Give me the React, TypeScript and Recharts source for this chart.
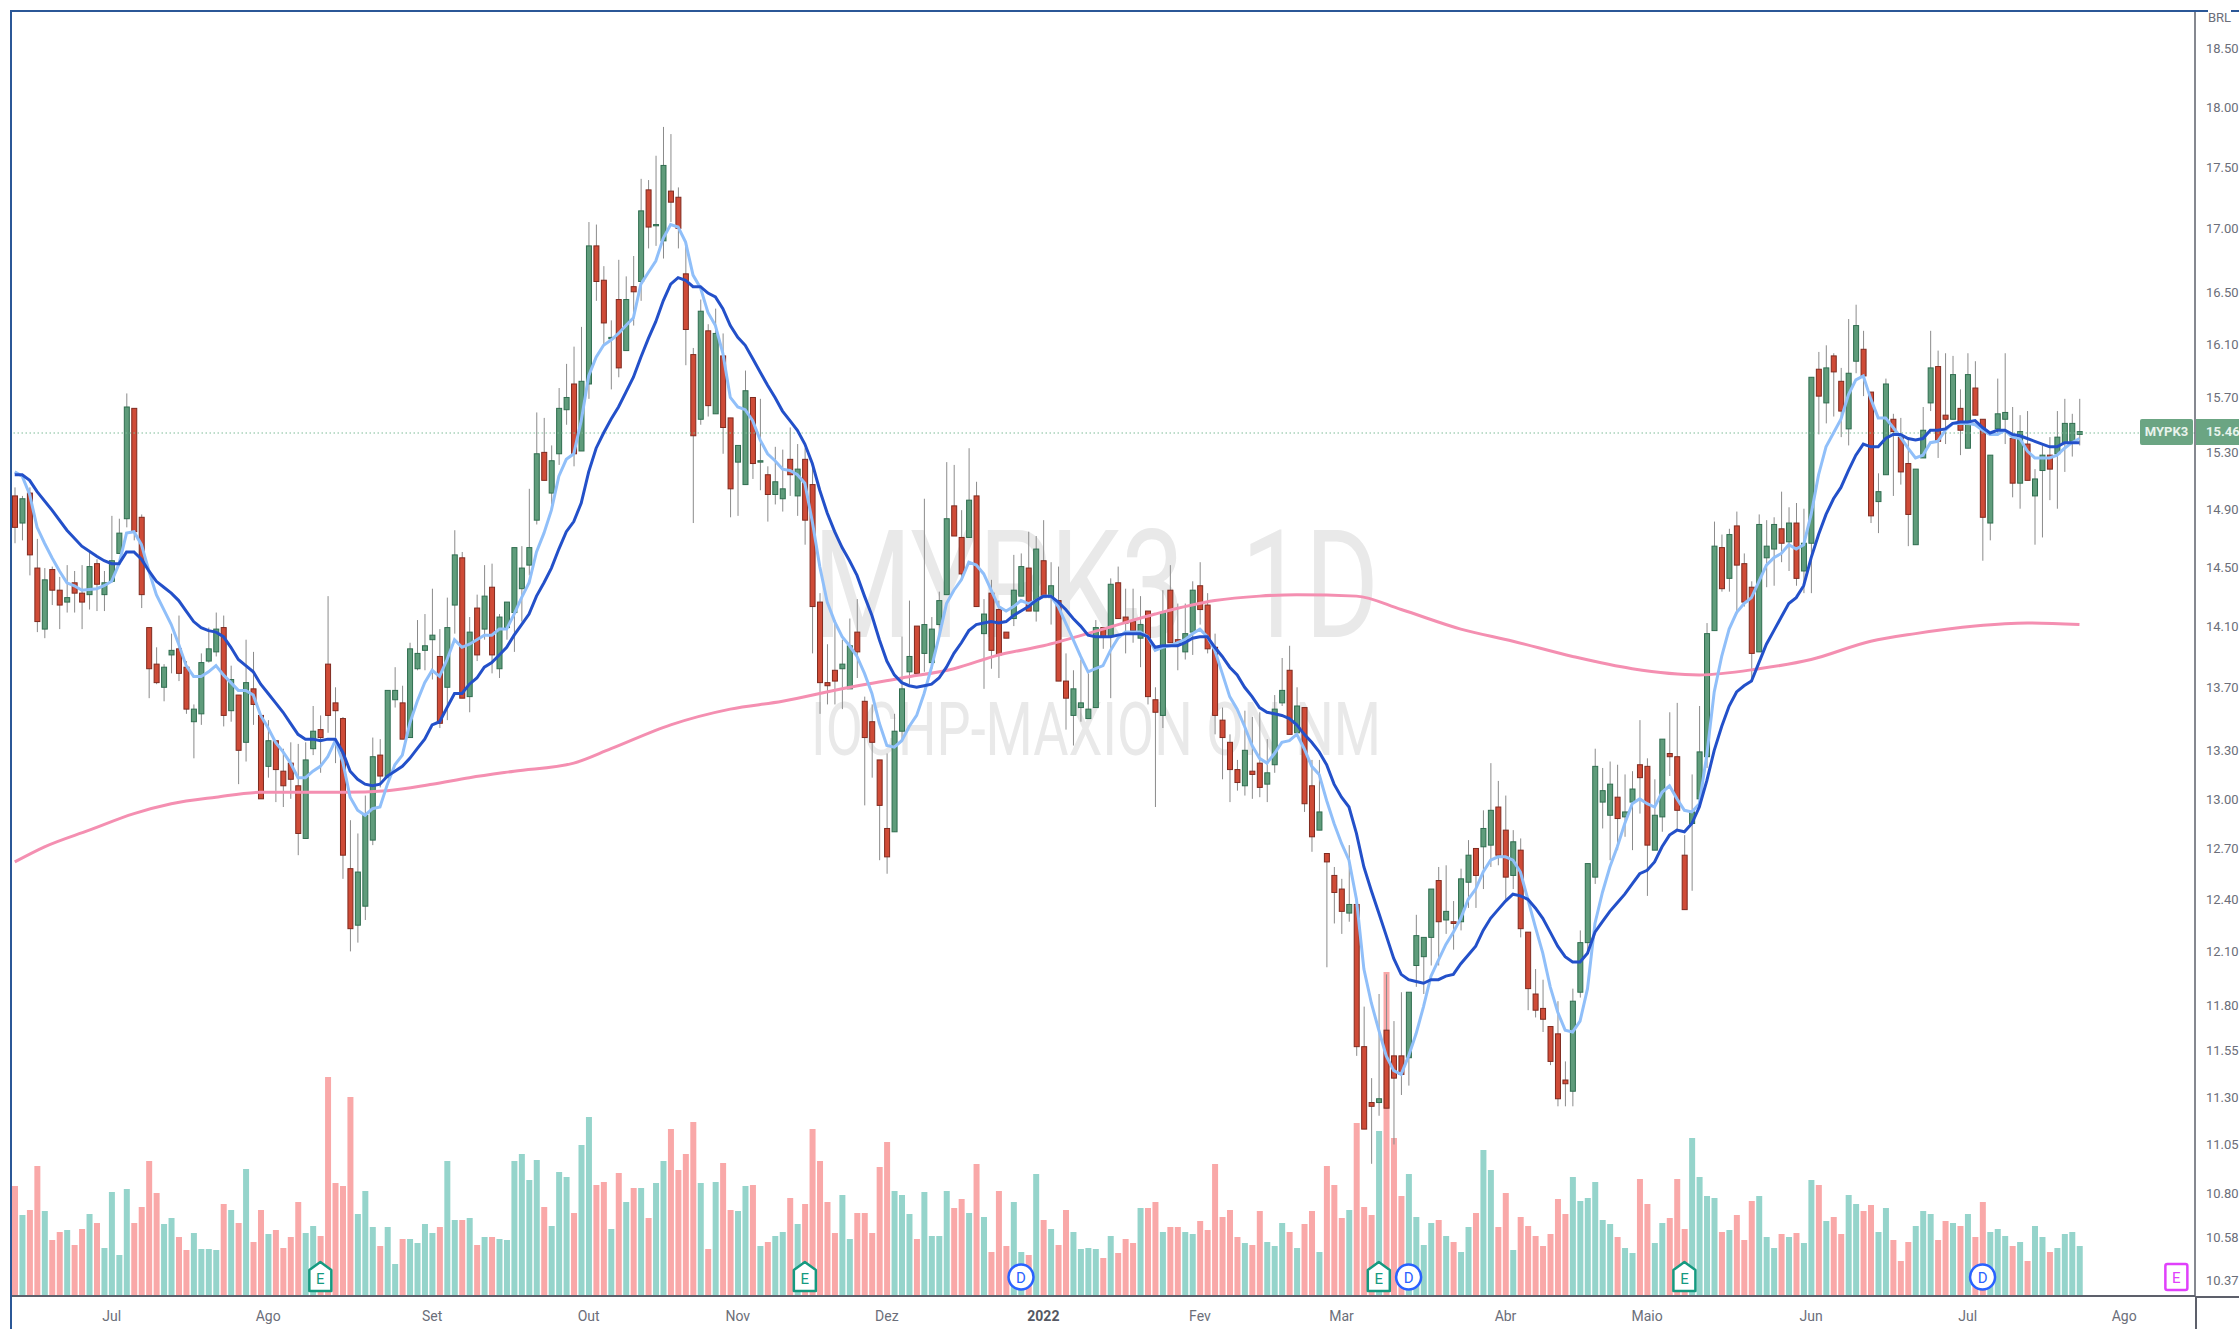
import { Bar, Cell, ComposedChart, Line, ReferenceDot, ReferenceLine, XAxis, YAxis } from "recharts";

// [open, high, low, close]
const candlesJunSep: number[][] = [
  [14.99,15.05,14.66,14.77],[14.80,14.99,14.68,14.97],[15.01,15.05,14.44,14.58],[14.49,14.69,14.06,14.13],[14.08,14.49,14.02,14.41],
  [14.48,14.50,14.24,14.34],[14.34,14.43,14.08,14.24],[14.26,14.51,14.19,14.29],[14.39,14.47,14.19,14.32],[14.32,14.51,14.08,14.26],
  [14.31,14.61,14.21,14.50],[14.52,14.55,14.20,14.38],[14.31,14.47,14.20,14.39],[14.40,14.85,14.39,14.54],[14.59,14.83,14.59,14.73],
  [14.83,15.73,14.77,15.63],[15.62,15.62,14.68,14.74],[14.84,14.86,14.22,14.31],[14.09,14.09,13.63,13.82],[13.85,13.96,13.72,13.73],
  [13.70,13.85,13.61,13.83],[13.91,14.05,13.79,13.94],[13.95,14.17,13.74,13.79],[13.83,13.87,13.53,13.56],[13.48,13.59,13.25,13.56],
  [13.53,13.92,13.46,13.86],[13.87,14.09,13.86,13.95],[13.93,14.19,13.90,14.08],[14.09,14.17,13.45,13.52],[13.55,13.84,13.48,13.75],
  [13.65,13.65,13.09,13.30],[13.35,14.01,13.23,13.73],[13.69,13.93,13.46,13.59],[13.52,13.52,13.00,13.00],[13.20,13.49,13.13,13.36],
  [13.36,13.36,12.98,13.18],[13.17,13.31,12.95,13.08],[13.22,13.35,13.00,13.12],[13.08,13.34,12.66,12.79],[12.76,13.35,12.76,13.24],
  [13.31,13.58,13.27,13.42],[13.43,13.52,13.16,13.38],[13.85,14.30,13.41,13.52],[13.60,13.70,13.22,13.55],[13.50,13.51,12.52,12.66],
  [12.58,12.87,12.10,12.23],[12.25,12.79,12.15,12.56],[12.36,13.02,12.28,12.90],[12.75,13.38,12.72,13.26],[13.27,13.37,13.07,13.14],
  [13.13,13.68,13.13,13.68],[13.62,13.83,13.57,13.68],[13.60,13.71,13.37,13.37],[13.38,13.99,13.38,13.95],[13.82,14.14,13.81,13.92],
  [13.94,14.18,13.81,13.97],[14.01,14.35,13.75,14.04],[13.90,14.08,13.44,13.47],[13.70,14.29,13.49,14.09],[14.24,14.75,14.05,14.58],
  [14.56,14.60,13.63,13.63],[13.64,14.16,13.54,14.06],[14.22,14.31,13.87,13.91],[14.08,14.51,14.01,14.30],[14.36,14.52,13.79,13.91],
  [13.82,14.18,13.76,14.16],[14.09,14.26,14.01,14.26],[14.19,14.63,13.93,14.63],[14.35,14.64,14.13,14.49],[14.51,15.04,14.44,14.63],
  [14.82,15.59,14.79,15.29],[15.30,15.55,15.10,15.10],[15.01,15.35,14.93,15.24],[15.29,15.77,15.21,15.62],
];
const candlesOctDec: number[][] = [
  [15.61,15.95,15.50,15.70],[15.80,16.08,15.20,15.29],[15.31,16.23,15.31,15.82],[15.80,17.05,15.69,16.86],[16.86,17.03,16.43,16.58],
  [16.59,16.70,16.10,16.26],[16.14,16.28,15.76,16.15],[16.44,16.75,15.85,15.92],[16.05,16.62,16.05,16.44],[16.54,16.78,16.24,16.50],
  [16.58,17.40,16.43,17.14],[17.31,17.39,16.84,17.01],[17.02,17.59,16.86,17.03],[16.90,17.83,16.76,17.51],[17.30,17.77,17.05,17.21],
  [17.25,17.33,16.84,17.00],[16.64,16.87,15.94,16.21],[16.02,16.07,14.80,15.42],[15.54,16.44,15.50,16.35],[16.20,16.25,15.56,15.64],
  [15.58,16.37,15.58,16.18],[16.01,16.18,15.29,15.48],[15.55,15.55,14.84,15.04],[15.23,15.35,14.85,15.35],[15.07,15.90,15.07,15.75],
  [15.70,15.70,15.11,15.22],[15.23,15.69,15.03,15.24],[15.14,15.20,14.81,15.00],[15.00,15.34,14.93,15.09],[14.97,15.32,14.88,15.04],
  [15.25,15.48,14.99,15.14],[14.99,15.36,14.85,15.18],[15.25,15.33,14.65,14.82],[15.07,15.19,13.92,14.23],[14.26,14.32,13.53,13.73],
  [13.73,13.98,13.59,13.71],[13.81,14.14,13.59,13.74],[13.82,14.01,13.56,13.85],[13.69,14.15,13.69,13.97],[14.06,14.28,13.76,13.93],
  [13.61,13.64,12.96,13.38],[13.48,13.59,13.13,13.35],[13.24,13.24,12.63,12.96],[12.82,13.28,12.55,12.65],[12.80,13.53,12.80,13.42],
  [13.42,14.03,13.37,13.69],[13.80,14.27,13.72,13.90],[14.10,14.10,13.79,13.79],[13.92,14.97,13.80,14.11],[13.86,14.16,13.82,14.08],
  [14.11,14.33,14.04,14.27],[14.31,15.23,14.31,14.83],[14.92,15.21,14.71,14.71],[14.70,14.89,14.42,14.45],[14.70,15.33,14.70,14.96],
  [14.99,15.09,14.23,14.23],[14.05,14.28,13.69,14.18],[14.32,14.41,13.82,13.94],[14.21,14.27,13.76,13.91],[14.06,14.06,14.02,14.02],
];
const candlesJanMar: number[][] = [
  [14.15,14.58,14.10,14.34],[14.30,14.59,14.30,14.50],[14.49,14.74,14.20,14.20],[14.20,14.71,14.13,14.62],[14.54,14.82,14.29,14.29],
  [14.29,14.53,14.11,14.37],[14.27,14.50,13.74,13.74],[13.74,13.92,13.43,13.63],[13.52,13.81,13.33,13.69],[13.57,13.88,13.48,13.60],
  [13.50,13.79,13.50,13.56],[13.57,14.14,13.57,14.09],[14.09,14.09,13.95,14.03],[14.03,14.42,13.63,14.38],[14.39,14.50,14.15,14.15],
  [14.16,14.35,13.92,14.12],[14.13,14.35,13.99,14.07],[14.02,14.30,13.83,14.11],[14.20,14.20,13.59,13.64],[13.62,13.70,12.95,13.54],
  [13.52,14.34,13.44,14.19],[14.34,14.51,13.99,13.99],[14.01,14.25,13.81,13.98],[13.93,14.25,13.88,14.05],[14.06,14.40,13.91,14.34],
  [14.37,14.53,14.11,14.21],[14.24,14.32,13.92,13.95],[13.96,14.05,13.40,13.52],[13.49,13.57,13.12,13.38],[13.35,13.40,12.98,13.18],
  [13.18,13.24,13.05,13.10],[13.08,13.55,13.02,13.30],[13.17,13.51,13.00,13.15],[13.22,13.54,13.01,13.07],[13.09,13.37,12.98,13.16],
  [13.21,13.65,13.16,13.56],[13.60,13.89,13.58,13.68],[13.81,13.97,13.40,13.40],[13.41,13.70,13.41,13.58],[13.57,13.57,12.92,12.97],
  [13.08,13.24,12.68,12.77],[12.81,13.24,12.81,12.92],[12.67,12.67,12.01,12.62],[12.54,12.59,12.26,12.44],[12.46,12.52,12.20,12.33],
  [12.32,12.72,12.27,12.37],[12.37,12.37,11.52,11.57],[11.57,11.79,11.13,11.13],[11.27,11.40,10.95,11.25],[11.27,11.86,11.20,11.29],
  [11.66,11.97,11.24,11.24],[11.52,11.71,11.05,11.40],[11.52,11.87,11.31,11.42],[11.51,11.87,11.36,11.87],[12.02,12.31,11.90,12.19],
  [12.07,12.18,11.86,12.18],[12.18,12.46,12.02,12.46],[12.51,12.59,12.02,12.27],[12.28,12.60,12.20,12.33],[12.27,12.39,12.11,12.26],
];
const candlesAprJul: number[][] = [
  [12.27,12.58,12.22,12.52],[12.50,12.75,12.35,12.66],[12.70,12.70,12.35,12.54],[12.71,12.93,12.46,12.82],[12.72,13.22,12.59,12.93],
  [12.95,13.11,12.60,12.66],[12.81,13.02,12.40,12.53],[12.54,12.81,12.46,12.74],[12.69,12.76,12.18,12.23],[12.21,12.21,11.77,11.89],
  [11.86,12.00,11.73,11.77],[11.78,11.94,11.65,11.72],[11.68,11.68,11.47,11.49],[11.64,11.82,11.25,11.29],[11.39,11.49,11.25,11.37],
  [11.33,11.89,11.25,11.82],[11.87,12.22,11.84,12.15],[12.15,12.61,12.10,12.61],[12.53,13.31,12.49,13.20],[12.98,13.19,12.82,13.05],
  [12.90,13.23,12.63,13.09],[13.01,13.21,12.69,12.88],[12.89,13.15,12.77,12.92],[12.98,13.17,12.69,13.06],[13.21,13.49,12.91,13.13],
  [13.20,13.25,12.42,12.72],[12.69,13.12,12.69,12.90],[12.89,13.37,12.80,13.37],[13.28,13.54,13.14,13.26],[13.26,13.60,12.81,12.93],
  [12.66,12.78,12.34,12.34],[12.85,13.15,12.45,12.92],[13.00,13.58,12.95,13.29],[13.26,14.12,13.19,14.05],[14.07,14.81,14.07,14.64],
  [14.63,14.72,14.33,14.35],[14.42,14.76,14.33,14.72],[14.78,14.88,14.18,14.51],[14.52,14.59,14.23,14.26],[14.36,14.40,13.75,13.92],
  [13.93,14.86,13.93,14.79],[14.56,14.82,14.36,14.64],[14.62,14.84,14.37,14.79],[14.76,15.02,14.53,14.66],[14.67,14.91,14.47,14.80],
  [14.80,14.94,14.37,14.42],[14.47,14.90,14.32,14.66],[14.66,15.85,14.32,15.85],[15.91,16.04,15.43,15.71],[15.66,16.09,15.51,15.92],
  [16.01,16.03,15.56,15.89],[15.82,15.92,15.41,15.60],[15.47,16.29,15.35,15.88],[15.97,16.40,15.88,16.24],[16.06,16.20,15.71,15.86],
  [15.74,15.74,14.80,14.85],[14.95,15.15,14.73,15.02],[15.14,15.84,15.14,15.80],[15.54,15.58,14.99,15.45],[15.41,15.55,15.07,15.16],
  [15.22,15.40,14.64,14.86],[14.65,15.18,14.65,15.18],[15.26,15.63,15.26,15.46],[15.66,16.20,15.60,15.92],[15.93,16.05,15.26,15.38],
  [15.57,16.03,15.36,15.54],[15.54,16.01,15.54,15.87],[15.62,15.76,15.28,15.46],[15.33,16.03,15.33,15.87],[15.77,15.97,15.57,15.57],
  [15.54,15.54,14.54,14.84],[14.80,15.28,14.68,15.28],[15.47,15.84,15.42,15.58],[15.54,16.03,15.36,15.59],[15.40,15.63,14.98,15.08],
  [15.08,15.57,14.90,15.45],[15.36,15.60,15.10,15.10],[14.99,15.18,14.65,15.11],[15.17,15.35,14.70,15.28],[15.28,15.41,14.96,15.18],
  [15.29,15.60,14.90,15.41],[15.37,15.69,15.16,15.51],[15.38,15.58,15.27,15.51],[15.43,15.69,15.35,15.45],
];
const candles = [...candlesJunSep, ...candlesOctDec, ...candlesJanMar, ...candlesAprJul];

// relative volume heights, one per candle
const volumes = [
  1.10,.81,.86,1.30,.85,.56,.64,.66,.51,.67,.82,.73,.48,1.04,.41,1.07,.73,.89,1.35,1.03,
  .72,.78,.59,.46,.63,.47,.47,.46,.92,.86,.73,1.27,.54,.86,.62,.66,.48,.59,.94,.63,
  .70,.60,2.19,1.13,1.10,1.99,.82,1.05,.69,.50,.69,.32,.57,.57,.53,.72,.63,.69,1.35,.76,
  .76,.78,.51,.59,.59,.57,.56,1.35,1.42,1.16,1.36,.89,.70,1.24,1.19,.83,1.51,1.79,1.11,1.14,
  .67,1.23,.94,1.08,1.08,.78,1.13,1.35,1.67,1.26,1.42,1.74,1.13,.47,1.14,1.33,.86,.85,1.10,1.11,
  .50,.54,.60,.64,.98,.72,.92,1.67,1.35,.94,.63,1.01,.57,.83,.83,.63,1.29,1.54,1.05,1.01,
  .82,.57,1.04,.60,.60,1.05,.88,.97,.83,1.32,.79,.44,1.05,.50,.94,.44,.41,1.22,.76,.67,
  .51,.86,.64,.47,.48,.47,.38,.60,.43,.57,.53,.88,.88,.94,.64,.69,.69,.64,.62,.75,
  .66,1.32,.79,.86,.59,.53,.51,.85,.54,.50,.73,.64,.48,.72,.85,.44,1.30,1.11,.78,.86,
  1.73,.89,.81,1.65,3.24,1.58,1.00,1.22,.79,.51,.73,.76,.60,.54,.44,.69,.83,1.46,1.26,.69,
  1.03,.46,.79,.70,.60,.50,.62,.97,.82,1.19,.95,.98,1.14,.76,.72,.59,.48,.43,1.17,.92,
  .53,.73,.78,1.17,.67,1.58,1.19,1.00,.98,.64,.66,.81,.56,.95,1.00,.59,.48,.62,.59,.63,
  .53,1.16,1.11,.75,.79,.62,1.01,.92,.85,.91,.64,.88,.56,.35,.54,.70,.85,.82,.56,.75,
  .73,.70,.82,.59,.94,.64,.67,.60,.50,.54,.35,.70,.59,.44,.48,.62,.64,.50,
];

// light blue fast average
const fastAverage: (number | null)[] = [
  15.16,15.13,15.00,14.77,14.66,14.56,14.47,14.39,14.37,14.34,null,14.35,14.37,14.40,14.52,14.73,14.74,14.65,14.47,14.31,
  14.21,14.11,13.98,13.84,13.77,13.77,13.80,13.84,13.78,13.73,13.68,13.68,13.65,13.52,13.44,13.35,13.29,13.22,13.13,13.13,
  13.17,13.20,13.26,13.36,13.23,13.01,12.93,12.90,12.94,12.95,13.09,13.21,13.27,13.47,13.61,13.73,13.81,13.77,13.88,14.01,
  13.96,13.98,14.01,14.04,14.04,14.08,14.08,14.18,14.29,14.39,14.60,14.73,14.89,15.13,15.25,15.29,15.53,15.86,16.00,16.09,
  16.13,16.18,16.24,16.30,16.56,16.65,16.74,16.92,17.03,17.01,16.89,16.63,16.53,16.34,16.24,16.03,15.70,15.63,15.61,15.53,
  15.39,15.29,15.24,15.18,15.17,15.14,15.08,14.81,14.50,14.26,14.13,14.03,13.97,13.90,13.79,13.66,13.47,13.33,13.32,13.36,
  13.45,13.52,13.66,13.83,14.03,14.25,14.34,14.41,14.53,14.51,14.45,14.34,14.23,14.20,14.23,14.27,14.25,14.27,14.30,14.30,
  14.23,14.12,14.01,13.90,13.80,13.82,13.84,13.94,14.02,14.06,14.06,14.06,14.03,13.94,13.96,13.97,13.99,14.01,14.05,14.08,
  14.03,13.94,13.79,13.64,13.56,13.45,13.33,13.25,13.22,13.28,13.35,13.36,13.40,13.31,13.20,13.15,12.99,12.85,12.73,12.63,
  12.40,12.00,11.81,11.66,11.52,11.44,11.42,11.52,11.64,11.79,11.96,12.05,12.14,12.21,12.29,12.40,12.46,12.56,12.63,12.65,
  12.65,12.63,12.56,12.40,12.24,12.09,11.90,11.76,11.66,11.65,11.71,11.89,12.26,12.44,12.59,12.71,12.85,12.97,13.00,12.97,
  12.95,13.04,13.08,13.00,12.93,12.92,12.97,13.27,13.67,13.90,14.08,14.19,14.25,14.29,14.40,14.51,14.56,14.59,14.65,14.62,
  14.65,14.86,15.14,15.34,15.44,15.54,15.72,15.83,15.86,15.69,15.55,15.55,15.48,15.41,15.33,15.26,15.28,15.37,15.38,15.46,
  15.51,15.51,15.51,15.50,15.46,15.43,15.43,15.46,15.41,15.40,15.31,15.26,15.26,15.26,15.28,15.33,15.37,15.40,
];

// dark blue slower average
const slowAverage: (number | null)[] = [
  15.14,15.14,15.10,15.02,null,14.89,null,14.75,null,14.64,null,14.57,14.54,14.52,14.52,14.60,14.60,14.55,14.47,14.40,
  14.36,14.32,14.27,14.20,14.13,14.09,14.07,14.06,14.03,13.96,13.88,13.84,13.80,13.72,13.66,13.60,13.54,13.47,13.40,13.37,
  13.37,13.36,13.37,13.37,13.29,13.17,13.12,13.09,13.08,13.09,13.14,13.17,13.20,13.25,13.31,13.37,13.46,13.48,13.57,13.66,
  13.66,13.72,13.76,13.83,13.86,13.91,13.96,14.04,14.11,14.18,14.30,14.39,14.49,14.62,14.74,14.81,14.94,15.16,15.33,15.44,
  15.54,15.63,15.74,15.85,16.00,16.14,16.27,16.43,16.56,16.61,16.59,16.54,16.54,16.49,16.46,16.37,16.24,16.15,16.09,15.99,
  15.89,15.79,15.70,15.60,15.53,15.46,15.36,15.22,15.03,14.87,14.74,14.63,14.54,14.44,14.30,14.17,14.01,13.87,13.78,13.73,
  13.71,13.70,13.71,13.72,13.76,13.83,13.92,13.99,14.07,14.11,14.12,14.13,14.12,14.13,14.17,14.20,14.23,14.27,14.30,14.30,
  14.26,14.21,14.15,14.10,14.04,14.03,14.03,14.03,14.04,14.05,14.05,14.05,14.03,13.96,13.97,13.97,13.97,13.99,14.02,14.03,
  14.03,13.96,13.90,13.83,13.78,13.70,13.64,13.57,13.54,13.53,13.52,13.50,13.46,13.40,13.35,13.29,13.21,13.09,13.01,12.95,
  12.79,12.59,12.45,12.32,12.19,12.06,11.97,11.94,11.93,11.92,11.94,11.94,11.96,11.97,12.03,12.08,12.13,12.22,12.29,12.34,
  12.39,12.43,12.42,12.40,12.35,12.29,12.21,12.13,12.07,12.04,12.04,12.09,12.21,12.27,12.33,12.38,12.43,12.49,12.55,12.57,
  12.62,12.71,12.78,12.81,12.80,12.85,12.95,13.11,13.30,13.45,13.58,13.67,13.71,13.74,13.86,13.98,14.07,14.16,14.25,14.29,
  14.37,14.56,14.72,14.86,14.97,15.05,15.17,15.28,15.36,15.34,15.34,15.40,15.43,15.43,15.40,15.39,15.40,15.46,15.46,15.47,
  15.51,15.52,15.52,15.53,15.48,15.44,15.46,15.46,15.43,15.42,15.40,15.38,15.36,15.34,15.34,15.37,15.37,15.37,
];

// pink long average, read at a spaced set of sessions
const longAverageSessions = [0,4,10,16,21,27,33,38,44,50,56,61,67,75,80,88,96,103,111,119,126,132,138,146,153,161,167,172,180,186,194,201,209,217,226,234,241,249,255,263,270,277];
const longAverageValues = [12.62,12.71,12.81,12.91,12.97,13.01,13.04,13.04,13.04,13.05,13.09,13.13,13.17,13.22,13.31,13.46,13.56,13.61,13.69,13.76,13.82,13.91,13.97,14.08,14.18,14.27,14.30,14.31,14.30,14.21,14.08,14.00,13.90,13.82,13.78,13.82,13.88,14.00,14.05,14.10,14.12,14.11];

const priceTicks = [18.5,18,17.5,17,16.5,16.1,15.7,15.3,14.9,14.5,14.1,13.7,13.3,13,12.7,12.4,12.1,11.8,11.55,11.3,11.05,10.8,10.58,10.37];
const monthTicks = [13,34,56,77,97,117,138,159,178,200,219,241,262,283];
const monthLabels = ["Jul","Ago","Set","Out","Nov","Dez","2022","Fev","Mar","Abr","Maio","Jun","Jul","Ago"];

const earnings = [41,106,183,224];
const dividends = [135,187,264];
const nextEarnings = 290;
const priceLine = 15.44;

const SLOTS = 293;
const rows = Array.from({ length: SLOTS }, (_, idx) => {
  const c = candles[idx];
  const longAt = longAverageSessions.indexOf(idx);
  if (!c) return { idx };
  return {
    idx,
    open: c[0],
    high: c[1],
    low: c[2],
    close: c[3],
    range: [c[2], c[1]],
    volume: volumes[idx],
    fast: fastAverage[idx],
    slow: slowAverage[idx],
    long: longAt >= 0 ? longAverageValues[longAt] : null,
  };
});

const AXIS_TEXT = "#6b6e79";
const FONT = "Roboto, sans-serif";

function CandleShape(props: any) {
  const { x, y, width, height, payload } = props;
  if (!payload || payload.high == null) return null;
  const { open, high, low, close } = payload;
  const up = close >= open;
  // log scale, so the body edges sit by log distance between low and high
  const span = Math.log(high / low) || 1;
  const at = (v: number) => y + (height * Math.log(high / v)) / span;
  const top = at(Math.max(open, close));
  const bottom = at(Math.min(open, close));
  const cx = x + width / 2;
  return (
    <g>
      <line x1={cx} x2={cx} y1={y} y2={y + height} stroke="#8b8b8b" strokeWidth={1} />
      <rect
        x={cx - 2.5}
        y={top}
        width={5}
        height={Math.max(1, bottom - top)}
        fill={up ? "#5f9c7b" : "#cf4b37"}
        stroke={up ? "#2f6d4f" : "#7f2a1f"}
        strokeWidth={1}
      />
    </g>
  );
}

function MonthTick(props: any) {
  const { x, y, payload } = props;
  const at = monthTicks.indexOf(payload.value);
  const label = monthLabels[at];
  return (
    <text
      x={x}
      y={y + 17}
      textAnchor="middle"
      fontFamily={FONT}
      fontSize={14}
      fontWeight={label === "2022" ? 700 : 400}
      fill={label === "2022" ? "#555862" : AXIS_TEXT}
    >
      {label}
    </text>
  );
}

function PriceTick(props: any) {
  const { x, y, payload } = props;
  return (
    <text x={x + 3} y={y + 5} fontFamily={FONT} fontSize={13} fill={AXIS_TEXT}>
      {payload.value.toFixed(2)}
    </text>
  );
}

function EarningsMark(props: any) {
  const { cx, cy } = props;
  const d = `M${cx - 11} ${cy + 14}V${cy - 7}L${cx} ${cy - 15}L${cx + 11} ${cy - 7}V${cy + 14}Z`;
  return (
    <g>
      <path d={d} fill="#fff" stroke="#159a80" strokeWidth={2.5} strokeLinejoin="round" />
      <text x={cx} y={cy + 7} textAnchor="middle" fontFamily={FONT} fontSize={15} fill="#159a80">
        E
      </text>
    </g>
  );
}

function DividendMark(props: any) {
  const { cx, cy } = props;
  return (
    <g>
      <circle cx={cx} cy={cy} r={12.5} fill="#fff" stroke="#2962ff" strokeWidth={2.5} />
      <text x={cx} y={cy + 6} textAnchor="middle" fontFamily={FONT} fontSize={15} fill="#2962ff">
        D
      </text>
    </g>
  );
}

function NextEarningsMark(props: any) {
  const { cx, cy } = props;
  return (
    <g>
      <rect x={cx - 11} y={cy - 13} width={22} height={26} rx={2} fill="#fff" stroke="#e040fb" strokeWidth={2.5} />
      <text x={cx} y={cy + 6} textAnchor="middle" fontFamily={FONT} fontSize={15} fill="#e040fb">
        E
      </text>
    </g>
  );
}

export default function App() {
  return (
    <div style={{ position: "absolute", left: 0, top: 0, width: 2239, height: 1329, background: "#fff", overflow: "hidden" }}>
      <svg width={2239} height={1329} style={{ position: "absolute", left: 0, top: 0 }}>
        <text x={1096} y={637} textAnchor="middle" fontFamily={FONT} fontSize={150} fill="#e9e9e9" textLength={566} lengthAdjust="spacingAndGlyphs">
          {"MYPK3\u00A0\u00A01D"}
        </text>
        <text x={1096} y={755} textAnchor="middle" fontFamily={FONT} fontSize={74} fill="#e9e9e9" textLength={570} lengthAdjust="spacingAndGlyphs">
          IOCHP-MAXION ON NM
        </text>
      </svg>

      <div style={{ position: "absolute", left: 0, top: 0 }}>
        <ComposedChart width={2239} height={1329} data={rows} margin={{ top: 12, right: 0, bottom: 0, left: 11 }}>
          <XAxis
            dataKey="idx"
            ticks={monthTicks}
            interval={0}
            height={33}
            tickLine={false}
            axisLine={{ stroke: "#5d606b", strokeWidth: 2 }}
            tick={<MonthTick />}
          />
          <XAxis dataKey="idx" xAxisId="vol" hide />
          <YAxis
            orientation="right"
            scale="log"
            domain={[10.29, 18.82]}
            allowDataOverflow
            ticks={priceTicks}
            interval={0}
            width={44}
            tickLine={false}
            axisLine={{ stroke: "#5d606b", strokeWidth: 1.5 }}
            tick={<PriceTick />}
          />
          <YAxis yAxisId="vol" hide domain={[0, 12.84]} />

          <Bar dataKey="volume" xAxisId="vol" yAxisId="vol" barSize={6} isAnimationActive={false}>
            {rows.map((r: any) => (
              <Cell key={r.idx} fill={r.close >= r.open ? "#95d4cb" : "#f9a8a8"} />
            ))}
          </Bar>

          <ReferenceLine y={priceLine} stroke="#7dbb97" strokeDasharray="1.5 2.5" />

          <Line dataKey="long" type="monotone" stroke="#f48fb1" strokeWidth={3} dot={false} connectNulls isAnimationActive={false} />
          <Line dataKey="fast" stroke="#90bff9" strokeWidth={3} dot={false} connectNulls isAnimationActive={false} />
          <Line dataKey="slow" stroke="#2350c9" strokeWidth={3} dot={false} connectNulls isAnimationActive={false} />

          <Bar dataKey="range" barSize={6} shape={CandleShape} isAnimationActive={false} />

          {earnings.map((e) => (
            <ReferenceDot key={e} xAxisId="vol" yAxisId="vol" x={e} y={0.19} shape={EarningsMark} />
          ))}
          {dividends.map((d) => (
            <ReferenceDot key={d} xAxisId="vol" yAxisId="vol" x={d} y={0.19} shape={DividendMark} />
          ))}
          <ReferenceDot xAxisId="vol" yAxisId="vol" x={nextEarnings} y={0.19} shape={NextEarningsMark} />
        </ComposedChart>
      </div>

      {/* frame pieces the axes do not reach */}
      <div style={{ position: "absolute", left: 10, top: 10, width: 2229, height: 2, background: "#2b5797" }} />
      <div style={{ position: "absolute", left: 10, top: 10, width: 2, height: 1319, background: "#2b5797" }} />
      <div style={{ position: "absolute", left: 2195, top: 1296, width: 44, height: 2, background: "#5d606b" }} />
      <div style={{ position: "absolute", left: 2195, top: 1296, width: 1.5, height: 33, background: "#5d606b" }} />

      <div style={{ position: "absolute", left: 2208, top: 10, font: `13px ${FONT}`, color: AXIS_TEXT, background: "#fff" }}>BRL</div>

      <div style={{ position: "absolute", left: 2140, top: 419, width: 53, height: 26, background: "#6ba583", borderRadius: 2, color: "#e8f3ec", font: `700 13px/26px ${FONT}`, textAlign: "center" }}>
        MYPK3
      </div>
      <div style={{ position: "absolute", left: 2196, top: 419, width: 43, height: 26, background: "#6ba583", color: "#e8f3ec", font: `700 13px/26px ${FONT}`, paddingLeft: 10, boxSizing: "border-box", whiteSpace: "nowrap" }}>
        15.46
      </div>
    </div>
  );
}
